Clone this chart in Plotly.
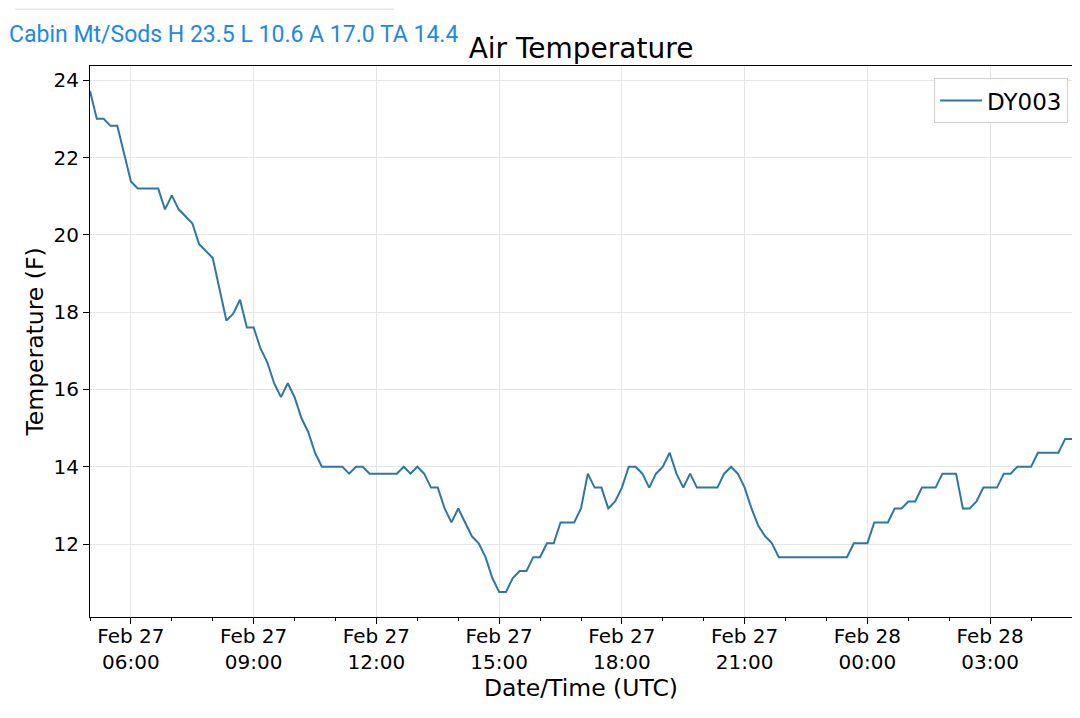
import pandas as pd
import plotly.graph_objects as go

# 10-minute air temperature readings (F), Feb 27 05:00 -> Feb 28 05:00 UTC
station = "DY003"
header = "Cabin Mt/Sods H 23.5 L 10.6 A 17.0 TA 14.4"
temps = [
    23.72, 23.0, 23.0, 22.82, 22.82, 22.1,     # 05
    21.38, 21.2, 21.2, 21.2, 21.2, 20.66,      # 06
    21.02, 20.66, 20.48, 20.3, 19.76, 19.58,   # 07
    19.4, 18.59, 17.78, 17.96, 18.32, 17.6,    # 08
    17.6, 17.06, 16.7, 16.16, 15.8, 16.16,     # 09
    15.8, 15.26, 14.9, 14.36, 14.0, 14.0,      # 10
    14.0, 14.0, 13.82, 14.0, 14.0, 13.82,      # 11
    13.82, 13.82, 13.82, 13.82, 14.0, 13.82,   # 12
    14.0, 13.82, 13.46, 13.46, 12.92, 12.56,   # 13
    12.92, 12.56, 12.2, 12.02, 11.66, 11.12,   # 14
    10.76, 10.76, 11.12, 11.3, 11.3, 11.66,    # 15
    11.66, 12.02, 12.02, 12.56, 12.56, 12.56,  # 16
    12.92, 13.82, 13.46, 13.46, 12.92, 13.1,   # 17
    13.46, 14.0, 14.0, 13.82, 13.46, 13.82,    # 18
    14.0, 14.36, 13.82, 13.46, 13.82, 13.46,   # 19
    13.46, 13.46, 13.46, 13.82, 14.0, 13.82,   # 20
    13.46, 12.92, 12.47, 12.2, 12.02, 11.66,   # 21
    11.66, 11.66, 11.66, 11.66, 11.66, 11.66,  # 22
    11.66, 11.66, 11.66, 11.66, 12.02, 12.02,  # 23
    12.02, 12.56, 12.56, 12.56, 12.92, 12.92,  # 00
    13.1, 13.1, 13.46, 13.46, 13.46, 13.82,    # 01
    13.82, 13.82, 12.92, 12.92, 13.1, 13.46,   # 02
    13.46, 13.46, 13.82, 13.82, 14.0, 14.0,    # 03
    14.0, 14.36, 14.36, 14.36, 14.36, 14.72,   # 04
    14.72,                                     # 05
]
times = pd.date_range("2021-02-27 05:00", periods=len(temps), freq="10min")

tick_times = ["2021-02-27 06:00", "2021-02-27 09:00", "2021-02-27 12:00",
              "2021-02-27 15:00", "2021-02-27 18:00", "2021-02-27 21:00",
              "2021-02-28 00:00", "2021-02-28 03:00"]
tick_labels = ["Feb 27<br>06:00", "Feb 27<br>09:00", "Feb 27<br>12:00",
               "Feb 27<br>15:00", "Feb 27<br>18:00", "Feb 27<br>21:00",
               "Feb 28<br>00:00", "Feb 28<br>03:00"]
y_ticks = [12, 14, 16, 18, 20, 22, 24]

font = "DejaVu Sans"

fig = go.Figure()
fig.add_trace(go.Scatter(x=times, y=temps, mode="lines", name=station,
                         line=dict(color="#2f76a5", width=2)))

span = max(temps) - min(temps)
# page body has an 8px margin, so the figure is a little smaller than the window
fig.update_layout(
    width=1064, height=702,
    margin=dict(l=82, r=0, t=58, b=93),
    paper_bgcolor="white", plot_bgcolor="white",
    font=dict(family=font, size=20, color="black"),
    title=dict(text="Air Temperature", x=0.5, xref="paper", xanchor="center",
               y=0.943, yanchor="middle", font=dict(size=28, family=font)),
    showlegend=True,
    legend=dict(x=0.996, y=0.978, xanchor="right", yanchor="top",
                bgcolor="white", bordercolor="#d0d0d0", borderwidth=1,
                itemwidth=42, font=dict(size=23)),
    annotations=[dict(text=header, xref="paper", yref="paper",
                      x=-0.0845, y=1.057, xanchor="left", yanchor="middle",
                      showarrow=False,
                      font=dict(family="Roboto", size=23, color="#1e88e5"))],
    shapes=[dict(type="line", xref="paper", yref="paper",
                 x0=-0.0764, x1=0.3096, y0=1.103, y1=1.103,
                 line=dict(color="#e8e8e8", width=1.5))],
)
fig.update_xaxes(
    range=[times[0], times[-1]],
    tickmode="array", tickvals=tick_times, ticktext=tick_labels,
    ticks="outside", ticklen=6, tickcolor="black", ticklabelstandoff=-5,
    showgrid=True, gridcolor="#e6e6e6", gridwidth=1,
    showline=True, linecolor="black", linewidth=1.2, mirror=True,
    zeroline=False, automargin=False,
    minor=dict(tickmode="linear", tick0="2021-02-27 05:00", dtick=3600000,
               ticks="outside", ticklen=3, tickcolor="black", showgrid=False),
    title=dict(text="Date/Time (UTC)", font=dict(size=23.5), standoff=0),
)
fig.update_yaxes(
    range=[min(temps) - 0.05 * span, max(temps) + 0.05 * span],
    tickmode="array", tickvals=y_ticks,
    ticks="outside", ticklen=6, tickcolor="black",
    showgrid=True, gridcolor="#e6e6e6", gridwidth=1,
    showline=True, linecolor="black", linewidth=1.2, mirror=True,
    zeroline=False, automargin=False,
    title=dict(text="Temperature (F)", font=dict(size=23.5), standoff=3),
)

fig.write_html("out.html")
